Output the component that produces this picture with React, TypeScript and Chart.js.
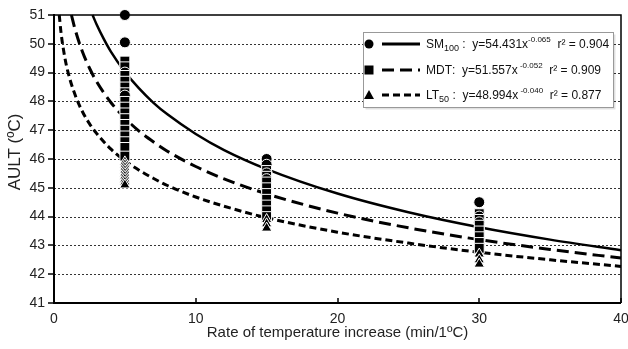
import React, { useEffect, useRef } from "react";
import { Chart, registerables } from "chart.js";
Chart.register(...registerables);

// ---- axis ticks ----
const xTickValues = [0, 10, 20, 30, 40];
const yMin = 41;
const yMax = 51;
const gridValues = [42, 43, 44, 45, 46, 47, 48, 49, 50];

const sm100X = [2.72, 3, 3.5, 4, 5, 6, 7, 8, 10, 12, 15, 20, 25, 30, 35, 40];
const sm100Y = [51.0, 50.68, 50.18, 49.74, 49.03, 48.45, 47.96, 47.55, 46.87, 46.31, 45.65, 44.8, 44.15, 43.63, 43.2, 42.83];
const mdtX = [1.23, 1.5, 2, 2.5, 3, 4, 5, 6, 7, 8, 10, 12, 15, 20, 25, 30, 35, 40];
const mdtY = [51.0, 50.48, 49.73, 49.16, 48.69, 47.97, 47.42, 46.97, 46.6, 46.27, 45.74, 45.31, 44.79, 44.12, 43.61, 43.2, 42.86, 42.56];
const lt50X = [0.37, 0.5, 0.75, 1, 1.5, 2, 2.5, 3, 4, 5, 6, 7, 8, 10, 12, 15, 20, 25, 30, 35, 40];
const lt50Y = [51.0, 50.37, 49.56, 48.99, 48.21, 47.65, 47.23, 46.89, 46.35, 45.94, 45.61, 45.33, 45.08, 44.68, 44.36, 43.96, 43.46, 43.08, 42.76, 42.5, 42.27];

// ---- observations ----
const circleX = [5, 5, 5, 5, 15, 15, 15, 15, 30, 30, 30];
const circleY = [51.0, 50.05, 49.0, 48.2, 46.0, 45.8, 45.5, 45.3, 44.5, 44.0, 43.8];
const squareX = [5, 5, 5, 5, 5, 5, 5, 5, 5, 5, 5, 5, 5, 5, 5, 5, 15, 15, 15, 15, 15, 15, 15, 15, 15, 30, 30, 30, 30, 30, 30, 30];
const squareY = [49.4, 49.2, 48.9, 48.7, 48.5, 48.3, 48.0, 47.8, 47.6, 47.4, 47.2, 47.0, 46.8, 46.6, 46.4, 46.1, 45.6, 45.4, 45.2, 45.0, 44.8, 44.6, 44.4, 44.2, 44.0, 44.1, 43.9, 43.7, 43.5, 43.3, 43.1, 42.9];
const triangleX = [5, 5, 5, 5, 5, 5, 5, 5, 5, 15, 15, 15, 30, 30, 30];
const triangleY = [45.9, 45.8, 45.7, 45.6, 45.5, 45.4, 45.3, 45.2, 45.1, 43.9, 43.75, 43.6, 42.7, 42.5, 42.35];

// ---- legend text ----
const legendNames = ["SM", "MDT", "LT"];
const legendSubs = ["100", "", "50"];
const legendCoefs = ["54.431", "51.557", "48.994"];
const legendExps = ["-0.065", "-0.052", "-0.040"];
const legendR2 = ["0.904", "0.909", "0.877"];

const FONT = '"Liberation Sans", Arial, Helvetica, sans-serif';
const dashes: number[][] = [[], [12, 6], [7, 4]];

function drawMarker(ctx: CanvasRenderingContext2D, kind: number, x: number, y: number) {
  ctx.fillStyle = "#000";
  ctx.beginPath();
  if (kind === 0) {
    ctx.arc(x, y, 4.5, 0, Math.PI * 2);
  } else if (kind === 1) {
    ctx.rect(x - 4.5, y - 4.5, 9, 9);
  } else {
    ctx.moveTo(x, y - 5);
    ctx.lineTo(x + 5, y + 4);
    ctx.lineTo(x - 5, y + 4);
    ctx.closePath();
  }
  ctx.fill();
}

const overlayPlugin = {
  id: "overlay",
  beforeDatasetsDraw(chart: any) {
    const { ctx, chartArea: a, scales } = chart;
    const y = scales.y;
    ctx.save();
    ctx.strokeStyle = "#333";
    ctx.lineWidth = 1;
    ctx.setLineDash([2, 2]);
    for (const v of gridValues) {
      const py = Math.round(y.getPixelForValue(v)) + 0.5;
      ctx.beginPath();
      ctx.moveTo(a.left, py);
      ctx.lineTo(a.right, py);
      ctx.stroke();
    }
    ctx.restore();
  },
  afterDatasetsDraw(chart: any) {
    const { ctx, chartArea: a, scales } = chart;
    const x = scales.x;
    const y = scales.y;
    ctx.save();
    ctx.setLineDash([]);
    ctx.strokeStyle = "#000";
    // top & right border
    ctx.lineWidth = 1.5;
    ctx.beginPath();
    ctx.moveTo(a.left, a.top);
    ctx.lineTo(a.right, a.top);
    ctx.lineTo(a.right, a.bottom);
    ctx.stroke();
    // left & bottom axes
    ctx.lineWidth = 2;
    ctx.beginPath();
    ctx.moveTo(a.left, a.top - 1);
    ctx.lineTo(a.left, a.bottom + 1);
    ctx.moveTo(a.left - 1, a.bottom);
    ctx.lineTo(a.right, a.bottom);
    ctx.stroke();
    // y tick marks (outward)
    ctx.lineWidth = 1.5;
    for (let v = yMin; v <= yMax; v++) {
      const py = Math.round(y.getPixelForValue(v));
      ctx.beginPath();
      ctx.moveTo(a.left - 6, py);
      ctx.lineTo(a.left, py);
      ctx.stroke();
    }
    // x tick marks (inward)
    for (const v of xTickValues) {
      const px = Math.round(x.getPixelForValue(v));
      ctx.beginPath();
      ctx.moveTo(px, a.bottom);
      ctx.lineTo(px, a.bottom - 5);
      ctx.stroke();
    }

    // axis titles
    ctx.fillStyle = "#222";
    ctx.font = `15px ${FONT}`;
    ctx.textAlign = "center";
    ctx.textBaseline = "middle";
    ctx.fillText("Rate of temperature increase (min/1ºC)", (a.left + a.right) / 2, 333);
    ctx.save();
    ctx.translate(15, 152);
    ctx.rotate(-Math.PI / 2);
    ctx.font = `17px ${FONT}`;
    ctx.fillText("AULT (ºC)", 0, 0);
    ctx.restore();

    // legend box
    const bx = 363.5, by = 32.5, bw = 250, bh = 75;
    ctx.fillStyle = "rgba(0,0,0,0.12)";
    ctx.fillRect(bx + 2, by + 2, bw, bh);
    ctx.fillStyle = "#fff";
    ctx.fillRect(bx, by, bw, bh);
    ctx.strokeStyle = "#999";
    ctx.lineWidth = 1;
    ctx.strokeRect(bx, by, bw, bh);

    const rowsY = [44, 70, 95];
    for (let i = 0; i < 3; i++) {
      const ry = rowsY[i];
      drawMarker(ctx, i, 369, ry);
      ctx.strokeStyle = "#000";
      ctx.lineWidth = 3;
      ctx.setLineDash(dashes[i]);
      ctx.beginPath();
      ctx.moveTo(382, ry);
      ctx.lineTo(420, ry);
      ctx.stroke();
      ctx.setLineDash([]);

      ctx.fillStyle = "#111";
      ctx.textAlign = "left";
      ctx.textBaseline = "alphabetic";
      let tx = 426;
      const base = ry + 4;
      ctx.font = `12px ${FONT}`;
      ctx.fillText(legendNames[i], tx, base);
      tx += ctx.measureText(legendNames[i]).width;
      if (legendSubs[i]) {
        ctx.font = `9px ${FONT}`;
        ctx.fillText(legendSubs[i], tx, base + 3);
        tx += ctx.measureText(legendSubs[i]).width;
      }
      ctx.font = `12px ${FONT}`;
      const mid = (legendSubs[i] ? " :  " : ":  ") + "y=" + legendCoefs[i] + "x";
      ctx.fillText(mid, tx, base);
      tx += ctx.measureText(mid).width;
      ctx.font = `8px ${FONT}`;
      const sup = (i === 0 ? "" : " ") + legendExps[i];
      ctx.fillText(sup, tx, base - 6);
      tx += ctx.measureText(sup).width;
      ctx.font = `12px ${FONT}`;
      ctx.fillText("  r² = " + legendR2[i], tx, base);
    }
    ctx.restore();
  },
};

export default function App() {
  const ref = useRef<HTMLCanvasElement>(null);
  useEffect(() => {
    if (!ref.current) return;
    type P = { x: number; y: number; s: string; r: number };
    const pts: P[] = [];
    circleX.forEach((v, i) => pts.push({ x: v, y: circleY[i], s: "circle", r: 5.5 }));
    squareX.forEach((v, i) => pts.push({ x: v, y: squareY[i], s: "rect", r: 7 }));
    triangleX.forEach((v, i) => pts.push({ x: v, y: triangleY[i], s: "triangle", r: 6 }));
    pts.sort((p, q) => p.x - q.x || q.y - p.y);

    const curve = (xs: number[], ys: number[], dash: number[], width: number) => ({
      data: xs.map((v, i) => ({ x: v, y: ys[i] })),
      borderColor: "#000",
      borderWidth: width,
      borderDash: dash,
      pointRadius: 0,
      fill: false,
      cubicInterpolationMode: "monotone" as const,
      showLine: true,
      order: 1,
      clip: false,
    });

    Chart.defaults.font.family = FONT;
    const chart = new Chart(ref.current, {
      type: "line",
      data: {
        datasets: [
          {
            data: pts.map((p) => ({ x: p.x, y: p.y })),
            showLine: false,
            pointStyle: pts.map((p) => p.s) as any,
            pointRadius: pts.map((p) => p.r),
            pointBackgroundColor: "#000",
            pointBorderColor: "#fff",
            pointBorderWidth: 1,
            order: 0,
            clip: false,
          } as any,
          curve(sm100X, sm100Y, [], 2.5),
          curve(mdtX, mdtY, dashes[1], 3),
          curve(lt50X, lt50Y, dashes[2], 3),
        ],
      },
      options: {
        animation: false,
        responsive: false,
        devicePixelRatio: 1,
        events: [],
        layout: { padding: { top: 15, right: 2, left: 0, bottom: 0 } },
        plugins: { legend: { display: false }, tooltip: { enabled: false } },
        scales: {
          x: {
            type: "linear",
            min: 0,
            max: 40,
            ticks: { stepSize: 10, padding: 8, color: "#222", font: { size: 14, family: FONT } },
            grid: { display: false, drawTicks: false },
            border: { display: false },
            afterFit: (s: any) => {
              s.height = 46;
              s.paddingLeft = 0;
              s.paddingRight = 0;
            },
          },
          y: {
            type: "linear",
            min: yMin,
            max: yMax,
            ticks: { stepSize: 1, padding: 9, color: "#222", font: { size: 14, family: FONT } },
            grid: { display: false, drawTicks: false },
            border: { display: false },
            afterFit: (s: any) => {
              s.width = 54;
              s.paddingTop = 0;
              s.paddingBottom = 0;
            },
          },
        },
      },
      plugins: [overlayPlugin],
    });
    return () => chart.destroy();
  }, []);
  return (
    <div style={{ position: "fixed", left: 0, top: 0, width: 628, height: 349, background: "#fff" }}>
      <canvas ref={ref} width={628} height={349} />
    </div>
  );
}
